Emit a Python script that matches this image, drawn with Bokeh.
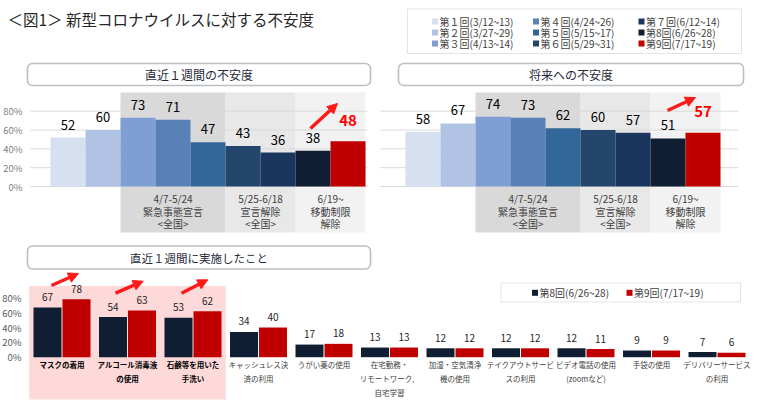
import numpy as np
from bokeh.plotting import figure
from bokeh.models import Range1d, BoxAnnotation, Arrow, NormalHead
from bokeh.core.properties import value
from bokeh.embed import file_html
from bokeh.resources import INLINE

# ---------------- data ----------------
TITLE = "＜図1＞ 新型コロナウイルスに対する不安度"
SERIES = ["第１回(3/12~13)", "第２回(3/27~29)", "第３回(4/13~14)",
          "第４回(4/24~26)", "第５回(5/15~17)", "第６回(5/29~31)",
          "第７回(6/12~14)", "第8回(6/26~28)", "第9回(7/17~19)"]
RECENT_TITLE = "直近１週間の不安度"
FUTURE_TITLE = "将来への不安度"
RECENT = [52, 60, 73, 71, 47, 43, 36, 38, 48]
FUTURE = [58, 67, 74, 73, 62, 60, 57, 51, 57]
PERIOD_FIRST = [2, 5, 7]
PERIOD_LAST = [4, 6, 8]
PERIOD_LABELS = ["4/7-5/24\n緊急事態宣言\n<全国>",
                 "5/25-6/18\n宣言解除\n<全国>",
                 "6/19~\n移動制限\n解除"]
TICKS = [0, 20, 40, 60, 80]
ACT_TITLE = "直近１週間に実施したこと"
ACTIONS = ["マスクの着用", "アルコール消毒液\nの使用", "石鹸等を用いた\n手洗い",
           "キャッシュレス決\n済の利用", "うがい薬の使用",
           "在宅勤務・\nリモートワーク、\n自宅学習", "加湿・空気清浄\n機の使用",
           "テイクアウトサービ\nスの利用", "ビデオ電話の使用\n(zoomなど)",
           "手袋の使用", "デリバリーサービス\nの利用"]
ACT_R8 = [67, 54, 53, 34, 17, 13, 12, 12, 12, 9, 7]
ACT_R9 = [78, 63, 62, 40, 18, 13, 12, 12, 11, 9, 6]
ACT_SERIES = ["第8回(6/26~28)", "第9回(7/17~19)"]
N_HIGHLIGHT = 3

# ---------------- styles ----------------
FONT = value("Noto Sans CJK JP")
COLORS = ["#d6e0f0", "#b0c3e5", "#7f9ed4", "#5981b8", "#336799",
          "#24466d", "#1a365e", "#0f1e33", "#c00000"]
BAND_COLORS = ["#d9d9d9", "#e8e8e8", "#f2f2f2"]
DARK = "#0f1e33"
RED = "#c00000"
ARROW_RED = "#ff1a1a"

W, H = 760, 411
X0, X1, Y0, Y1 = 0, W, H, 0   # page pixel coordinates (y downward)

p = figure(width=W, height=H, x_range=Range1d(X0, X1), y_range=Range1d(Y0, Y1),
           output_backend="svg", toolbar_location=None,
           x_axis_location=None, y_axis_location=None,
           min_border=0, outline_line_color=None)
p.grid.visible = False

# chart coordinate systems: (page x of index 0, px per index, page y of 0, px per unit)
CHARTS = {
    "tl": (67.5, 35.0, 186.0, 75.3 / 80),
    "tr": (422.5, 35.0, 186.0, 75.3 / 80),
    "bot": (61.5, 65.5, 356.7, 59.4 / 80),
}
xr, yr = {}, {}
for k, (px0, ppx, zero, ppy) in CHARTS.items():
    xr[k] = Range1d((X0 - px0) / ppx, (X1 - px0) / ppx)
    yr[k] = Range1d((zero - Y0) / ppy, (zero - Y1) / ppy)
p.extra_x_ranges = xr
p.extra_y_ranges = yr


def cx(k, px):
    px0, ppx, _, _ = CHARTS[k]
    return (px - px0) / ppx


def cy(k, py):
    _, _, zero, ppy = CHARTS[k]
    return (zero - py) / ppy


def multiline(xs, ys, labels, spacing):
    """split labels into lines; returns x, y, text, y_offset lists"""
    ox, oy, ot, oo = [], [], [], []
    for x, y, lab in zip(xs, ys, labels):
        for j, line in enumerate(lab.split("\n")):
            ox.append(x)
            oy.append(y)
            ot.append(line)
            oo.append(j * spacing)
    return ox, oy, ot, oo


# ---------------- header ----------------
p.text(x=[7], y=[18], text=[TITLE], text_font=FONT, text_font_size="15.5px",
       text_color="#262626", text_baseline="middle", text_align="left")

p.add_layout(BoxAnnotation(left=407, right=741, top=8.5, bottom=53,
                           fill_color="white", fill_alpha=1,
                           line_color="#a6a6a6", line_width=1, level="underlay"))
sq_cols = [434.5, 535.5, 641.0]
sq_rows = [21.0, 32.0, 43.0]
lx = [sq_cols[i // 3] for i in range(len(SERIES))]
ly = [sq_rows[i % 3] for i in range(len(SERIES))]
p.scatter(x=lx, y=ly, marker="square", size=6, color=COLORS, line_color=None)
p.text(x=[v + 4.5 for v in lx], y=ly, text=SERIES, text_font=FONT,
       text_font_size="10px", text_color="#404040",
       text_baseline="middle", text_align="left")

# ---------------- title boxes ----------------
for (l, r, t, b, txt, fs) in [(27, 370, 63, 85, RECENT_TITLE, "12px"),
                               (398, 743, 63, 85, FUTURE_TITLE, "12px"),
                               (27, 370, 245.5, 268.5, ACT_TITLE, "11.5px")]:
    p.add_layout(BoxAnnotation(left=l, right=r, top=t, bottom=b,
                               fill_color="white", fill_alpha=1,
                               line_color="#1f2a3a", line_width=1.6,
                               border_radius=5, level="underlay"))
    p.text(x=[(l + r) / 2], y=[(t + b) / 2], text=[txt], text_font=FONT,
           text_font_size=fs, text_color="#1f2a3a",
           text_baseline="middle", text_align="center")

# ---------------- top charts ----------------
idx9 = np.arange(len(RECENT))
for k, vals, gx in [("tl", RECENT, (30, 367)), ("tr", FUTURE, (380, 738))]:
    kw = dict(x_range_name=k, y_range_name=k)
    first = np.array(PERIOD_FIRST)
    last = np.array(PERIOD_LAST)
    p.quad(left=first - 0.5, right=last + 0.5, bottom=-49, top=100,
           fill_color=BAND_COLORS, line_color=None, **kw)
    p.segment(x0=[cx(k, gx[0])] * len(TICKS), x1=[cx(k, gx[1])] * len(TICKS),
              y0=TICKS, y1=TICKS, line_color="#d9d9d9", line_width=1, **kw)
    p.vbar(x=idx9, top=vals, width=1.0, bottom=0, fill_color=COLORS,
           line_color=None, **kw)
    p.text(x=idx9[:-1], y=vals[:-1], text=[str(v) for v in vals[:-1]],
           y_offset=-13, text_font=FONT, text_font_size="13px",
           text_color="#000000", text_align="center", text_baseline="middle", **kw)
    p.text(x=idx9[-1:], y=vals[-1:], text=[str(vals[-1])], y_offset=-21,
           text_font=FONT, text_font_size="15px", text_font_style="bold",
           text_color="#ff0000", text_align="center", text_baseline="middle", **kw)
    mx, my, mt, mo = multiline((first + last) / 2,
                               [cy(k, 198)] * len(PERIOD_LABELS),
                               PERIOD_LABELS, 12.5)
    p.text(x=mx, y=my, text=mt, y_offset=mo, text_font=FONT,
           text_font_size="10px", text_color="#404040",
           text_align="center", text_baseline="middle", **kw)
    if k == "tl":
        p.text(x=[cx(k, 22)] * len(TICKS), y=TICKS, text=[f"{t}%" for t in TICKS],
               text_font=FONT, text_font_size="9.5px", text_color="#7f7f7f",
               text_align="right", text_baseline="middle", **kw)

# ---------------- bottom chart ----------------
kb = dict(x_range_name="bot", y_range_name="bot")
idx11 = np.arange(len(ACTIONS))
p.quad(left=[-0.5], right=[N_HIGHLIGHT - 0.5], bottom=[-57], top=[96],
       fill_color="#fdd9d9", line_color=None, **kb)
bw = 28 / 65.5
off = 14.5 / 65.5
p.vbar(x=idx11 - off, top=ACT_R8, width=bw, bottom=0, fill_color=DARK,
       line_color=None, **kb)
p.vbar(x=idx11 + off, top=ACT_R9, width=bw, bottom=0, fill_color=RED,
       line_color=None, **kb)
for xs, vals in [(idx11 - off, ACT_R8), (idx11 + off, ACT_R9)]:
    p.text(x=xs, y=vals, text=[str(v) for v in vals], y_offset=-10.5,
           text_font=FONT, text_font_size="10px", text_color="#262626",
           text_align="center", text_baseline="middle", **kb)
ly0 = cy("bot", 364)
mx, my, mt, mo = multiline(idx11[:N_HIGHLIGHT], [ly0] * N_HIGHLIGHT,
                           ACTIONS[:N_HIGHLIGHT], 14)
p.text(x=mx, y=my, text=mt, y_offset=mo, text_font=FONT,
       text_font_size="7.5px", text_font_style="bold", text_color="#000000",
       text_align="center", text_baseline="middle", **kb)
rest = len(ACTIONS) - N_HIGHLIGHT
mx, my, mt, mo = multiline(idx11[N_HIGHLIGHT:], [ly0] * rest,
                           ACTIONS[N_HIGHLIGHT:], 14)
p.text(x=mx, y=my, text=mt, y_offset=mo, text_font=FONT,
       text_font_size="7.5px", text_color="#404040",
       text_align="center", text_baseline="middle", **kb)
p.text(x=[cx("bot", 21)] * len(TICKS), y=TICKS, text=[f"{t}%" for t in TICKS],
       text_font=FONT, text_font_size="9.5px", text_color="#595959",
       text_align="right", text_baseline="middle", **kb)

# bottom legend
p.add_layout(BoxAnnotation(left=500.5, right=740, top=282.5, bottom=301.5,
                           fill_color="white", fill_alpha=1,
                           line_color="#a6a6a6", line_width=1, level="underlay"))
p.scatter(x=[534.5, 629.0], y=[292.3, 292.3], marker="square", size=6,
          color=[DARK, RED], line_color=None)
p.text(x=[539.0, 633.5], y=[292.3, 292.3], text=ACT_SERIES, text_font=FONT,
       text_font_size="10px", text_color="#404040",
       text_baseline="middle", text_align="left")

# ---------------- arrows ----------------
for (xs, ys, xe, ye) in [(310, 128, 337, 103), (667, 110, 695, 97),
                         (51, 285, 78, 273), (115, 292.7, 142.7, 280.7),
                         (181, 292.7, 207.3, 279.3)]:
    p.add_layout(Arrow(end=NormalHead(size=10, fill_color=ARROW_RED,
                                      line_color=ARROW_RED),
                       x_start=xs, y_start=ys, x_end=xe, y_end=ye,
                       line_color=ARROW_RED, line_width=3.5))

open("out.html", "w").write(file_html(p, INLINE))
